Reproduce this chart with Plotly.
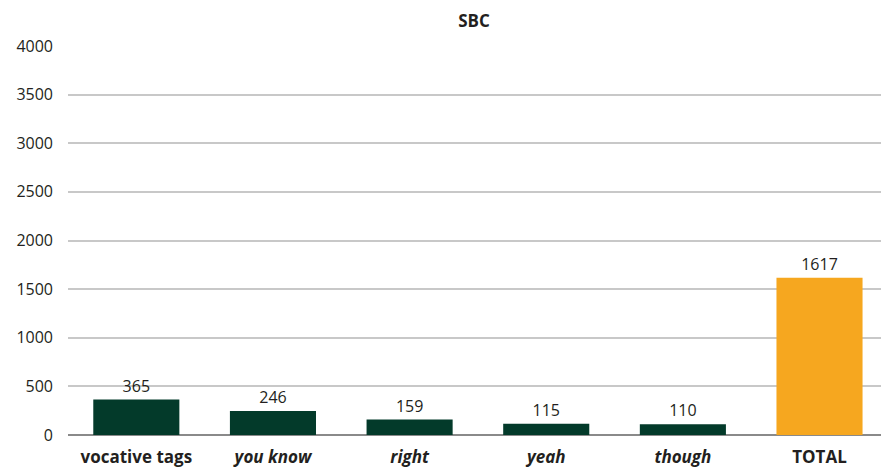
import plotly.graph_objects as go

categories = ["vocative tags", "you know", "right", "yeah", "though", "TOTAL"]
tick_labels = ["<b>vocative tags</b>", "<b><i>you know</i></b>", "<b><i>right</i></b>",
               "<b><i>yeah</i></b>", "<b><i>though</i></b>", "<b>TOTAL</b>"]
counts = [365, 246, 159, 115, 110, 1617]
bar_colors = ["#033a2a"] * 5 + ["#f6a71f"]

font_family = "Open Sans, Noto Sans, sans-serif"

fig = go.Figure(go.Bar(
    x=list(range(len(categories))),
    y=counts,
    marker=dict(color=bar_colors, line=dict(width=0)),
    width=0.63,
    text=[str(v) for v in counts],
    textposition="outside",
    textfont=dict(family=font_family, size=16, color="#231f20"),
    cliponaxis=False,
))

fig.update_layout(
    width=881, height=468,
    margin=dict(l=68, r=0, t=46, b=33),
    paper_bgcolor="white", plot_bgcolor="white",
    showlegend=False,
    title=dict(text="<b>SBC</b>", x=0.538, xanchor="center", y=0.955, yanchor="middle",
               font=dict(family=font_family, size=17, color="#231f20")),
    xaxis=dict(
        range=[-0.5, 5.45],
        tickmode="array",
        tickvals=list(range(len(categories))),
        ticktext=tick_labels,
        tickfont=dict(family=font_family, size=17, color="#231f20"),
        showgrid=False, zeroline=False, showline=False, ticks="",
        ticklabelstandoff=10,
    ),
    yaxis=dict(
        range=[0, 4000],
        tickmode="array",
        tickvals=[0, 500, 1000, 1500, 2000, 2500, 3000, 3500, 4000],
        tickfont=dict(family=font_family, size=16, color="#231f20"),
        showgrid=True, gridcolor="#c8c8c8", gridwidth=1.5,
        zeroline=True, zerolinecolor="#8a8a8a", zerolinewidth=2,
        showline=False, ticks="", ticklabelstandoff=14,
    ),
    bargap=0.37,
)

fig.write_html("out.html")
